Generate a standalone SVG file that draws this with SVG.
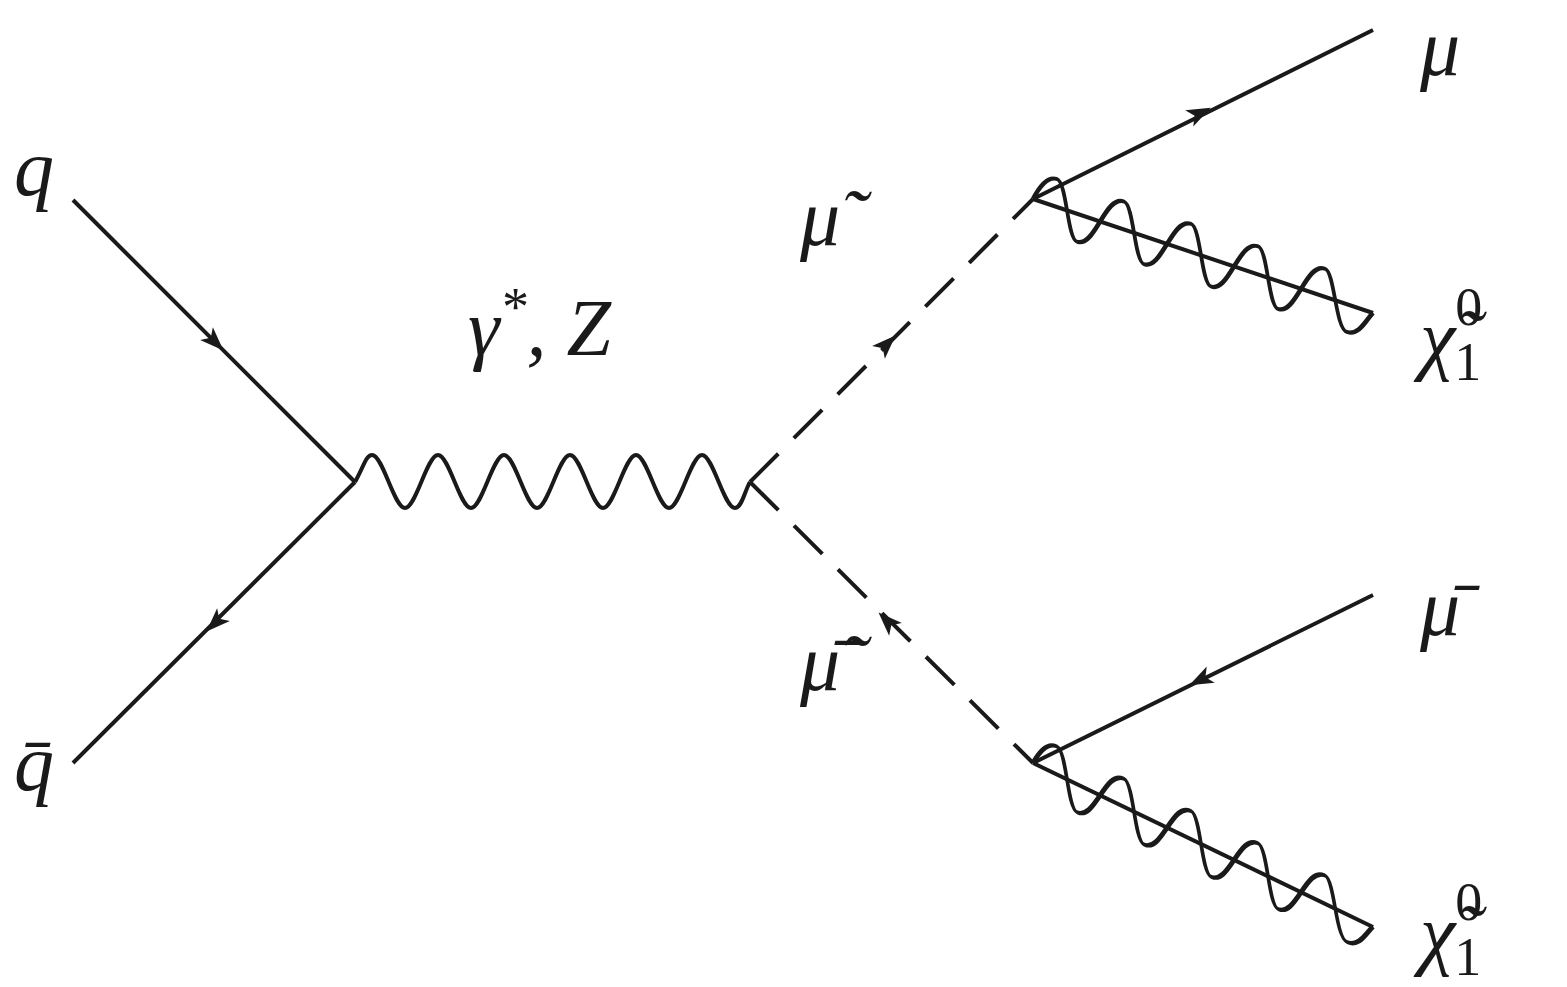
<svg xmlns="http://www.w3.org/2000/svg" width="1567" height="987" viewBox="0 0 1567 987">
<style>
.l{fill:none;stroke:#1a1a1a;stroke-width:4;stroke-linejoin:round}
.d{fill:none;stroke:#1a1a1a;stroke-width:4;stroke-dasharray:40 22}
.t{font-family:"Liberation Serif","DejaVu Serif",serif;font-style:italic;font-size:80px;fill:#1a1a1a}
.u{font-family:"Liberation Serif","DejaVu Serif",serif;font-size:54px;fill:#1a1a1a}
</style>
<defs>
<path id="ar" d="M12,0 L-12,-9 L-6,0 L-12,9 Z" fill="#1a1a1a"/>
<path id="gw" class="l" d="M0,0 C8,-18 16,-28 24,-28 C34,-28 34,28 44,28 C62,28 72,-28 91,-28 C101,-28 101,28 111,28 C129,28 139,-28 158,-28 C168,-28 168,28 178,28 C196,28 206,-28 225,-28 C235,-28 235,28 245,28 C263,28 273,-28 292,-28 C302,-28 302,28 314,28 C326,28 334,8 340,0"/>
</defs>
<g id="connectors">
<line class="l" x1="73" y1="200" x2="355" y2="482"/>
<use href="#ar" transform="translate(215,342) rotate(45)"/>
<line class="l" x1="355" y1="482" x2="73" y2="763"/>
<use href="#ar" transform="translate(215,623) rotate(135)"/>
<path class="l" d="M355,482 C364,466 366,455 372,455 C383,455 394,508 405,508 C416,508 427,455 438,455 C449,455 460,508 471,508 C482,508 493,455 504,455 C515,455 526,508 537,508 C548,508 559,455 570,455 C581,455 592,508 603,508 C614,508 625,455 636,455 C647,455 658,508 669,508 C680,508 691,455 702,455 C713,455 724,508 735,508 C742,508 745,490 750,482"/>
<path class="d" d="M750,482 L1033,199"/>
<use href="#ar" transform="translate(887,344) rotate(-45)"/>
<path class="d" d="M750,482 L1033,763"/>
<use href="#ar" transform="translate(887,621) rotate(-135)"/>
<line class="l" x1="1033" y1="199" x2="1373" y2="30"/>
<use href="#ar" transform="translate(1200,113) rotate(-26.4)"/>
<line class="l" x1="1033" y1="199" x2="1373" y2="313"/>
<use href="#gw" transform="translate(1033,199) skewY(18.5)"/>
<line class="l" x1="1033" y1="763" x2="1373" y2="595"/>
<use href="#ar" transform="translate(1200,680) rotate(153.7)"/>
<line class="l" x1="1033" y1="763" x2="1373" y2="927"/>
<use href="#gw" transform="translate(1033,763) skewY(25.7)"/>
</g>
<g id="n-q"><text class="t" x="14" y="195">q</text></g>
<g id="n-qbar"><text class="t" x="14" y="790">q̄</text></g>
<g id="n-gz"><text class="t" x="468" y="355">γ<tspan class="u" dy="-30">*</tspan><tspan dy="30">, Z</tspan></text></g>
<g id="n-smu"><text class="t" x="800" y="245">μ̃</text></g>
<g id="n-smubar"><text class="t" x="800" y="690">μ̃̄</text></g>
<g id="n-mu"><text class="t" x="1420" y="75">μ</text></g>
<g id="n-mubar"><text class="t" x="1420" y="635">μ̄</text></g>
<g id="n-chi1"><text class="t" x="1420" y="365">χ̃<tspan class="u" font-style="normal" dy="-40">0</tspan><tspan class="u" font-style="normal" dx="-28" dy="55">1</tspan></text></g>
<g id="n-chi2"><text class="t" x="1420" y="960">χ̃<tspan class="u" font-style="normal" dy="-40">0</tspan><tspan class="u" font-style="normal" dx="-28" dy="55">1</tspan></text></g>
</svg>
